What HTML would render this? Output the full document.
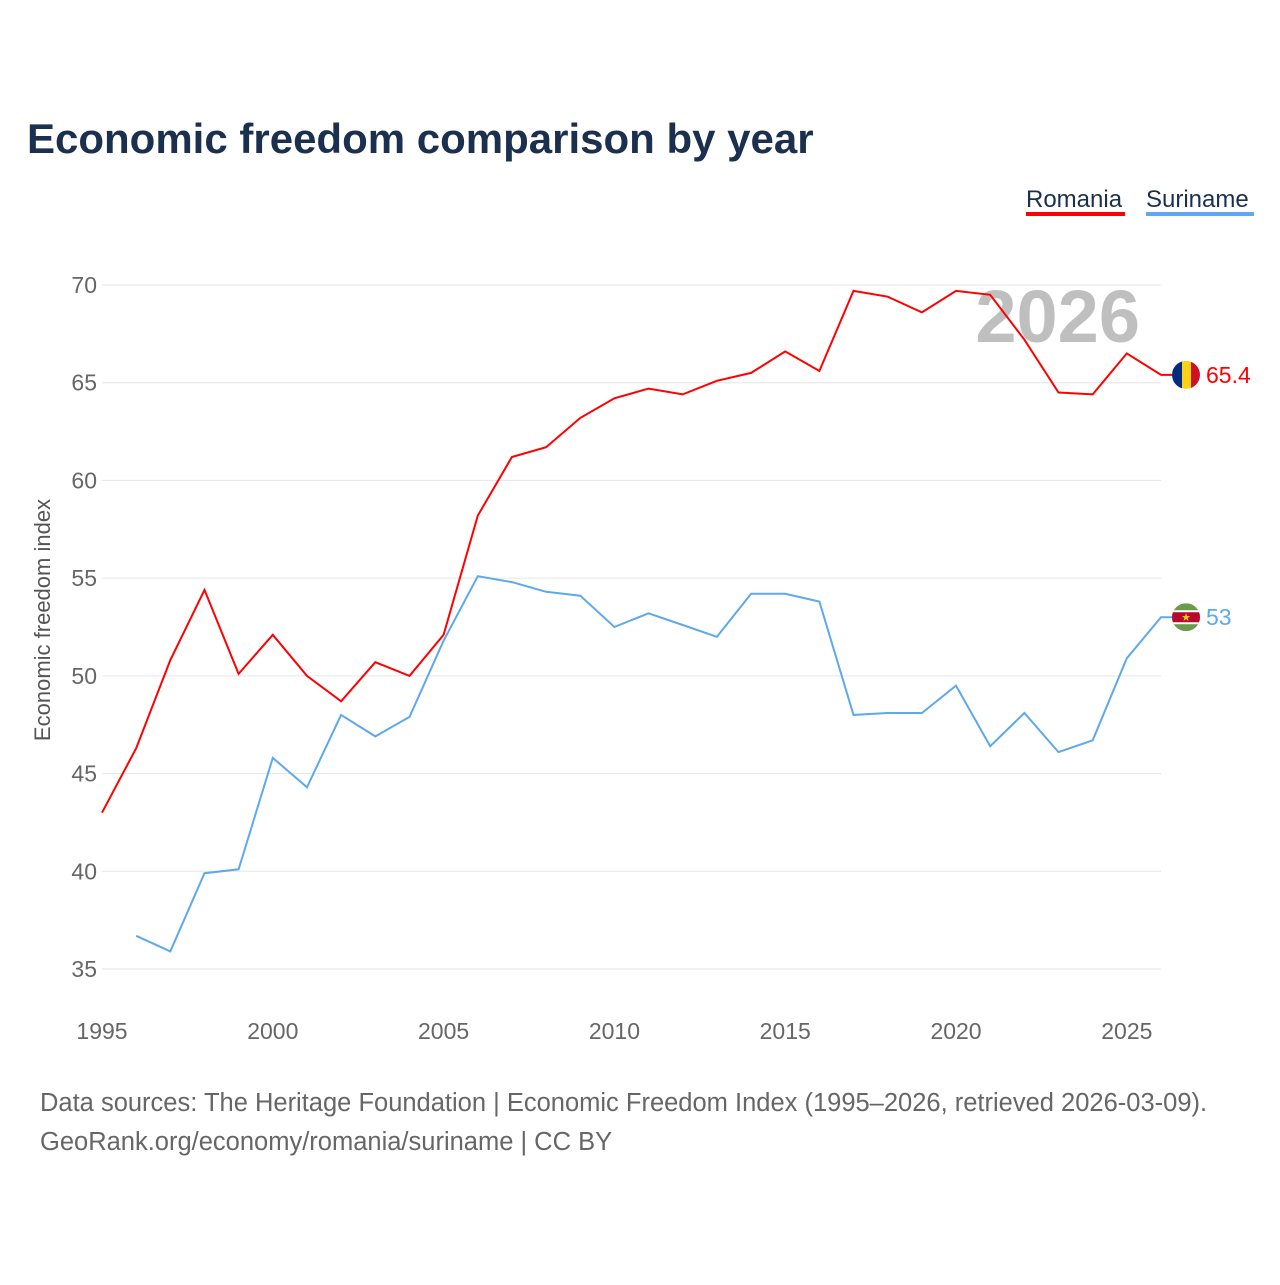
<!DOCTYPE html>
<html><head><meta charset="utf-8"><style>
body{margin:0;background:#fff;font-family:"Liberation Sans",sans-serif}
</style></head><body>
<svg width="1280" height="1280" viewBox="0 0 1280 1280">
<defs>
<clipPath id="c1"><circle id="cc1" cx="1186" cy="0" r="14"/></clipPath>
<clipPath id="c2"><circle id="cc2" cx="1186" cy="0" r="14"/></clipPath>
</defs>
<text x="27" y="153" font-size="42" font-weight="bold" fill="#1b2f4f">Economic freedom comparison by year</text>
<g>
<text x="1026" y="207" font-size="24" fill="#1b2f4f">Romania</text>
<rect x="1026" y="212" width="99" height="4" fill="#ff0000"/>
<text x="1146" y="207" font-size="24" fill="#1b2f4f">Suriname</text>
<rect x="1146" y="212" width="108" height="4" fill="#5ea8ec"/>
</g>
<text x="1140" y="342" font-size="74" font-weight="bold" fill="#bfbfbf" text-anchor="end">2026</text>
<g id="grid"></g><g id="xt"></g>
<text transform="translate(50,620) rotate(-90)" font-size="22" fill="#555" text-anchor="middle">Economic freedom index</text>
<g id="series"></g>
<text x="40" y="1111" font-size="25.5" fill="#666">Data sources: The Heritage Foundation | Economic Freedom Index (1995–2026, retrieved 2026-03-09).</text>
<text x="40" y="1150" font-size="25.5" fill="#666">GeoRank.org/economy/romania/suriname | CC BY</text>
</svg>
<script>
const years=[1995,1996,1997,1998,1999,2000,2001,2002,2003,2004,2005,2006,2007,2008,2009,2010,2011,2012,2013,2014,2015,2016,2017,2018,2019,2020,2021,2022,2023,2024,2025,2026];
const romania=[43.0,46.3,50.8,54.4,50.1,52.1,50.0,48.7,50.7,50.0,52.1,58.2,61.2,61.7,63.2,64.2,64.7,64.4,65.1,65.5,66.6,65.6,69.7,69.4,68.6,69.7,69.5,67.2,64.5,64.4,66.5,65.4];
const suriname=[null,36.7,35.9,39.9,40.1,45.8,44.3,48.0,46.9,47.9,51.8,55.1,54.8,54.3,54.1,52.5,53.2,52.6,52.0,54.2,54.2,53.8,48.0,48.1,48.1,49.5,46.4,48.1,46.1,46.7,50.9,53.0];
const yTicks=[35,40,45,50,55,60,65,70];
const xTicks=[1995,2000,2005,2010,2015,2020,2025];
const NS="http://www.w3.org/2000/svg";
const X=y=>102+(y-1995)*(1161-102)/31;
const Y=v=>285+(70-v)*(969-285)/35;
function mk(t,a,p){const e=document.createElementNS(NS,t);for(const k in a)e.setAttribute(k,a[k]);p.appendChild(e);return e;}
const grid=document.getElementById('grid');
yTicks.forEach(v=>{
 const l=mk('line',{x1:102,x2:1161,y1:Y(v),y2:Y(v),stroke:'#e6e6e6','stroke-width':1},grid);
 
 
 const t=mk('text',{x:97,y:Y(v)+8,'font-size':23,fill:'#666','text-anchor':'end'},grid);
 t.textContent=v;
 
 
});
const xt=document.getElementById('xt');
xTicks.forEach(v=>{
 const t=mk('text',{x:X(v),y:1039,'font-size':23,fill:'#666','text-anchor':'middle'},xt);
 t.textContent=v;
 
 
});
const S=document.getElementById('series');
function draw(vals,color,name,label,cid){
 let d='';vals.forEach((v,i)=>{if(v==null)return;d+=(d?'L':'M')+X(years[i]).toFixed(1)+','+Y(v).toFixed(1);});
 const last=vals[vals.length-1];
 d+='L1172,'+Y(last).toFixed(1);
 const p=mk('path',{d:d,fill:'none',stroke:color,'stroke-width':2},S);
 
 
 document.getElementById(cid).setAttribute('cy',Y(last));
 const t=mk('text',{x:1206,y:Y(last)+8,'font-size':23,fill:color},S);
 t.textContent=label;
 
 
 const g=mk('g',{'clip-path':'url(#'+(cid=='cc1'?'c1':'c2')+')'},S);
 
 
 return [g,Y(last)];
}
let [g1,y1]=draw(romania,'#ff0000','romania','65.4','cc1');
mk('rect',{x:1172,y:y1-14,width:10,height:28,fill:'#002b7f'},g1);
mk('rect',{x:1182,y:y1-14,width:9,height:28,fill:'#fcd116'},g1);
mk('rect',{x:1191,y:y1-14,width:10,height:28,fill:'#ce1126'},g1);
let [g2,y2]=draw(suriname,'#5ea8ec','suriname','53','cc2');
mk('rect',{x:1172,y:y2-14,width:28,height:28,fill:'#6a9a4a'},g2);
mk('rect',{x:1172,y:y2-7,width:28,height:14,fill:'#fff'},g2);
mk('rect',{x:1172,y:y2-5,width:28,height:10,fill:'#b40a2d'},g2);
const st=mk('text',{x:1186,y:y2+4,'font-size':11,fill:'#ecc81d','text-anchor':'middle'},g2);
st.textContent='★';
</script>
</body></html>
